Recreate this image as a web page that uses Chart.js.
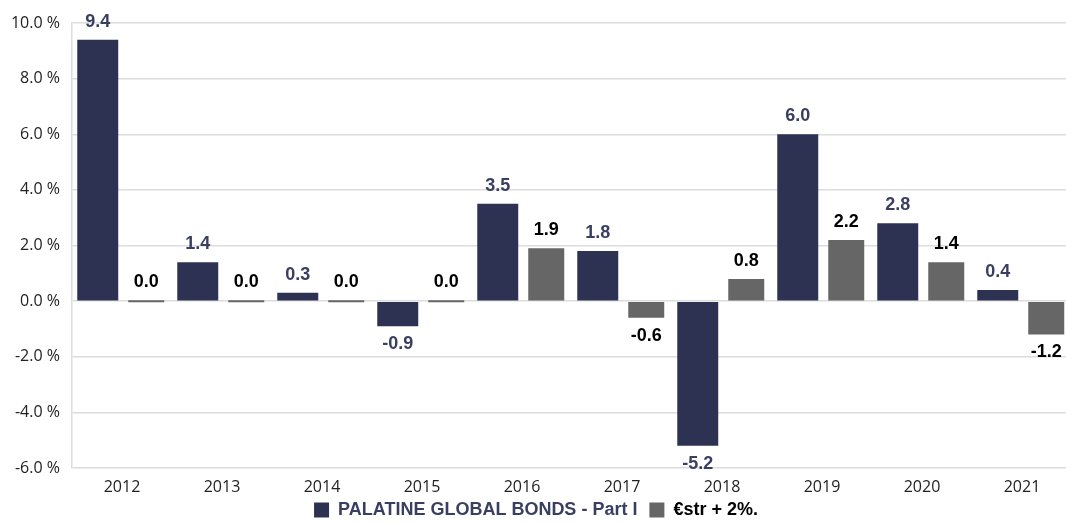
<!DOCTYPE html>
<html>
<head>
<meta charset="utf-8">
<script src="https://cdn.jsdelivr.net/npm/chart.js@4/dist/chart.umd.min.js"></script>
<style>
  html, body { margin: 0; padding: 0; background: #fff; overflow: hidden; }
  #wrap { width: 1080px; height: 522px; position: relative; }
</style>
</head>
<body>
<div id="wrap"><canvas id="perf"></canvas></div>
<script>
// --- Data ---
const years = ['2012','2013','2014','2015','2016','2017','2018','2019','2020','2021'];
const fundPerf = [9.4, 1.4, 0.3, -0.9, 3.5, 1.8, -5.2, 6.0, 2.8, 0.4];
const benchPerf = [0.0, 0.0, 0.0, 0.0, 1.9, -0.6, 0.8, 2.2, 1.4, -1.2];
const yTicks = [-6, -4, -2, 0, 2, 4, 6, 8, 10];

const NAVY = '#2e3252';
const GREY = '#666666';
const LABEL_NAVY = '#3a3f62';
const BOLD_FONT = '"Liberation Sans", Arial, sans-serif';

// value labels above / below each bar
const valueLabels = {
  id: 'valueLabels',
  afterDatasetsDraw(chart) {
    const ctx = chart.ctx;
    ctx.save();
    ctx.font = 'bold 18px ' + BOLD_FONT;
    ctx.textAlign = 'center';
    ctx.textBaseline = 'middle';
    chart.data.datasets.forEach((ds, di) => {
      const meta = chart.getDatasetMeta(di);
      ctx.fillStyle = di === 0 ? LABEL_NAVY : '#000';
      meta.data.forEach((bar, i) => {
        const v = ds.data[i];
        const top = Math.min(bar.y, bar.base);
        const bottom = Math.max(bar.y, bar.base);
        const y = v < 0 ? bottom + 18 : top - 18;
        ctx.fillText(v.toFixed(1), bar.x, y);
      });
    });
    ctx.restore();
  }
};

// keep the legend compact so the plot reaches down close to it
const legendFit = {
  id: 'legendFit',
  afterInit(chart) {
    const lg = chart.legend;
    const fit = lg.fit;
    lg.fit = function () { fit.call(this); this.height = 22; };
  },
  afterLayout(chart) {
    chart.legend.top -= 11;
  }
};

new Chart(document.getElementById('perf'), {
  type: 'bar',
  data: {
    labels: years,
    datasets: [
      { label: 'PALATINE GLOBAL BONDS - Part I', data: fundPerf, backgroundColor: NAVY,
        barPercentage: 0.845, categoryPercentage: 0.97 },
      { label: '€str + 2%.', data: benchPerf, backgroundColor: GREY,
        barPercentage: 0.742, categoryPercentage: 0.97, minBarLength: 2 },
    ],
  },
  options: {
    responsive: true, maintainAspectRatio: false, animation: false,
    layout: { padding: { top: 23, right: 8, left: 0, bottom: 0 } },
    plugins: {
      tooltip: { enabled: false },
      legend: {
        position: 'bottom',
        labels: {
          boxWidth: 15, boxHeight: 15, padding: 12,
          font: { size: 18, weight: 'bold', family: BOLD_FONT },
          generateLabels(chart) {
            const items = Chart.defaults.plugins.legend.labels.generateLabels(chart);
            items.forEach((it, i) => { it.fontColor = i === 0 ? LABEL_NAVY : '#000'; it.lineWidth = 0; });
            return items;
          },
        },
      },
    },
    scales: {
      x: {
        grid: { display: false, drawTicks: false },
        border: { display: false },
        afterFit(axis) { axis.height = 32; },
        ticks: { color: '#222', font: { size: 16, family: '"Open Sans", sans-serif' }, padding: 10 },
      },
      y: {
        min: -6, max: 10,
        afterBuildTicks(axis) { axis.ticks = yTicks.map(v => ({ value: v })); },
        afterFit(axis) { axis.width = 72; },
        grid: { color: '#dcdcdc', lineWidth: 1.5, drawTicks: false },
        border: { display: true, color: '#dcdcdc', width: 1.5 },
        ticks: {
          color: '#222', padding: 12,
          font: { size: 16, family: '"Open Sans", sans-serif' },
          callback: v => v.toFixed(1) + ' %',
        },
      },
    },
  },
  plugins: [valueLabels, legendFit],
});
</script>
</body>
</html>
